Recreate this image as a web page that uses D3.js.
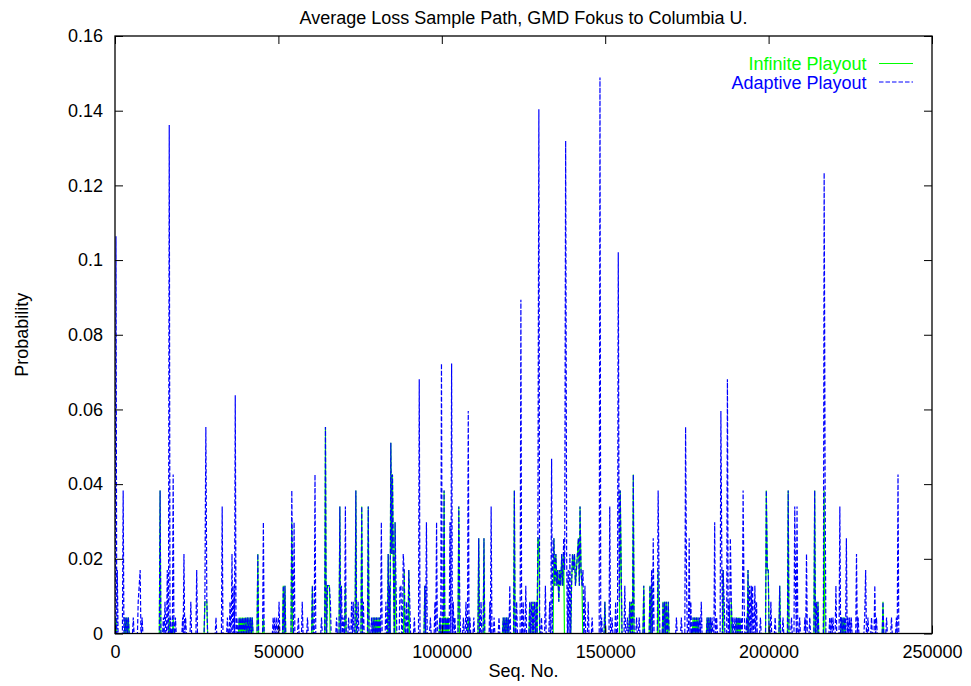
<!DOCTYPE html>
<html>
<head>
<meta charset="utf-8">
<script src="https://cdn.jsdelivr.net/npm/d3@7"></script>
<style>
  body { margin: 0; background: #fff; }
  svg text { font-family: "Liberation Sans", Arial, Helvetica, sans-serif; font-size: 18px; }
</style>
</head>
<body>
<svg id="main"></svg>
<script>

var chart = {
  width: 971,
  height: 686,
  left: 115,
  right: 932,
  top: 36,
  bottom: 633.5
}

var title = "Average Loss Sample Path, GMD Fokus to Columbia U."
var xLabel = "Seq. No."
var yLabel = "Probability"
var seriesNames = ["Infinite Playout", "Adaptive Playout"]

var xTicks = [0, 50000, 100000, 150000, 200000, 250000]
var yTicks = [0, 0.02, 0.04, 0.06, 0.08, 0.1, 0.12, 0.14, 0.16]

// loss is measured per window of packets; windows not listed had no loss (0)
var windowSize = 235
var lastSeq = 240000

// [seq no., loss probability] for the windows that had losses
var infinite = [
  [300,.0043],
  [3100,.0043],[3600,.0043],[4100,.0043],
  [13800,.0383],
  [16600,.0043],[17800,.0043],
  [27500,.0085],[27800,.0085],[28100,.0085],
  [38000,.0043],[38500,.0043],[39000,.0043],[39500,.0043],[40000,.0043],[40500,.0043],[41000,.0043],[41500,.0043],[42000,.0043],
  [43700,.0213],[45400,.0043],
  [51500,.0128],[52000,.0128],
  [54100,.0298],
  [60400,.0128],
  [64400,.0553],[65000,.0128],[65300,.0128],[65600,.0128],
  [68800,.0340],[70500,.0128],
  [73700,.0383],[75500,.0340],[77500,.0340],
  [79000,.0043],[79500,.0043],[80000,.0043],[80500,.0043],[81000,.0043],
  [83600,.0213],[84000,.0128],[84400,.0511],[84700,.0213],[84900,.0426],[85200,.0170],[85700,.0298],
  [88500,.0170],[89900,.0170],
  [94800,.0128],
  [99400,.0043],[100300,.0043],[100700,.0383],[101100,.0043],[101600,.0043],[102000,.0043],
  [105200,.0340],
  [108100,.0043],
  [111300,.0255],[112900,.0255],
  [118800,.0043],[119300,.0043],[119800,.0043],[120300,.0043],
  [122200,.0383],
  [126900,.0085],[127900,.0085],[128900,.0085],
  [129400,.0255],[129700,.0255],
  [134300,.0255],[134600,.0128],[134900,.0213],[135200,.0128],[135500,.0170],[135800,.0085],[136100,.0170],[136400,.0128],[136700,.0213],[137000,.0128],[137300,.0213],
  [139700,.0128],[140000,.0213],[140300,.0170],[140600,.0213],[140900,.0128],[141200,.0170],[141500,.0213],[141800,.0255],[142100,.0128],[142300,.0340],[142600,.0170],[142900,.0128],
  [149900,.0085],
  [154600,.0383],[154900,.0170],
  [157500,.0085],[158000,.0085],[158600,.0426],
  [161800,.0128],[163700,.0128],[164200,.0128],
  [166200,.0170],
  [167700,.0085],[168200,.0085],[168700,.0085],[169300,.0085],
  [176900,.0043],[177400,.0043],[177900,.0043],[178400,.0043],
  [181200,.0043],[181700,.0043],[182200,.0043],
  [186100,.0170],[188600,.0085],
  [190200,.0043],[190700,.0043],[191200,.0043],
  [193700,.0170],
  [199300,.0383],[199600,.0170],[199900,.0170],
  [203400,.0128],
  [206000,.0383],
  [214100,.0383],[215100,.0085],[217000,.0383],
  [222300,.0043],[222800,.0043],[223300,.0043],
  [235000,.0085]
]

var adaptive = [
  [300,.1064],[700,.0170],
  [2500,.0383],[3100,.0043],[3600,.0043],[4100,.0043],
  [5600,.0043],
  [7100,.0085],[7400,.0128],[7700,.0170],[8300,.0043],
  [13800,.0383],
  [14800,.0043],[15300,.0085],[16000,.0170],[16600,.1362],[17000,.0043],[17800,.0426],[18500,.0043],
  [20700,.0043],[21100,.0213],[21600,.0043],
  [23200,.0085],[25000,.0170],
  [27500,.0085],[27800,.0553],[28100,.0085],
  [30900,.0043],
  [32800,.0340],
  [34400,.0043],[35200,.0085],[35800,.0213],[36400,.0128],[36800,.0638],[37300,.0043],
  [38000,.0043],[38500,.0043],[39000,.0043],[39500,.0043],[40000,.0043],[40500,.0043],[41000,.0043],[41500,.0043],[42000,.0043],
  [43700,.0213],[45400,.0298],
  [48400,.0043],[48900,.0043],[49500,.0043],[50200,.0085],[51500,.0128],[52000,.0128],
  [54100,.0383],[54400,.0085],[54800,.0298],
  [56100,.0043],[57300,.0085],[58900,.0043],
  [60400,.0128],[61200,.0426],
  [63200,.0043],[64400,.0553],[65000,.0128],[65300,.0128],[65600,.0128],[65900,.0085],
  [67800,.0043],[68800,.0340],[69300,.0128],[69800,.0043],[70500,.0340],
  [71500,.0043],[72400,.0085],[72900,.0085],[73700,.0383],[74400,.0085],[75500,.0340],[76000,.0085],[77500,.0340],
  [78500,.0043],[79000,.0043],[79500,.0043],[80000,.0043],[80500,.0043],[81000,.0043],[81500,.0298],
  [82900,.0085],[83600,.0213],[84000,.0128],[84400,.0511],[84700,.0213],[84900,.0426],[85200,.0170],[85700,.0298],[86000,.0128],
  [87200,.0128],[87500,.0128],[88200,.0213],[88500,.0170],[89200,.0085],[89900,.0170],[90200,.0085],
  [91600,.0043],[93100,.0681],[94800,.0128],[95300,.0298],[96500,.0043],[97900,.0085],[98400,.0298],
  [99400,.0043],[99900,.0723],[100300,.0043],[100700,.0383],[101100,.0043],[101600,.0043],[102000,.0043],[102500,.0298],[103000,.0723],[103500,.0085],[104000,.0043],
  [105200,.0340],[105500,.0085],[106600,.0043],[107400,.0085],[108100,.0596],[108600,.0043],
  [109800,.0043],[111300,.0255],[112000,.0085],[112900,.0255],[114700,.0085],[115100,.0340],[116000,.0043],
  [117500,.0043],[118800,.0043],[119300,.0043],[119800,.0043],[120300,.0043],[120800,.0128],
  [122200,.0383],[122900,.0085],[124200,.0894],[124900,.0085],[125700,.0128],
  [126900,.0085],[127400,.0085],[127900,.0085],[128400,.0085],[128900,.0085],[129400,.0255],[129700,.1404],[130500,.0043],[131700,.0128],
  [133000,.0085],[133600,.0468],
  [134000,.0170],[134300,.0255],[134600,.0128],[134900,.0213],[135200,.0128],[135500,.0170],[135800,.0085],[136100,.0170],[136400,.0128],[136700,.0213],[137000,.0128],[137300,.0255],[137600,.0170],[137900,.1319],[138200,.0213],
  [138700,.0170],[139200,.0213],
  [139700,.0128],[140000,.0213],[140300,.0170],[140600,.0213],[140900,.0128],[141200,.0170],[141500,.0213],[141800,.0255],[142100,.0128],[142300,.0340],[142600,.0170],[142900,.0128],[143200,.0170],
  [143800,.0128],[144800,.0085],[146000,.0043],
  [148400,.1489],[148900,.0043],[149900,.0085],[151400,.0340],[152100,.0043],
  [153200,.0085],[154000,.1021],[154300,.0085],[154600,.0383],[154900,.0170],[156000,.0128],[156800,.0043],
  [157500,.0085],[158000,.0085],[158600,.0426],[159600,.0043],[160400,.0043],
  [161800,.0128],[163700,.0128],[164200,.0170],[164700,.0255],[166200,.0383],[166500,.0128],
  [167700,.0085],[168200,.0085],[168700,.0085],[169300,.0085],
  [171800,.0043],[173300,.0043],[174600,.0553],[174900,.0128],[175700,.0255],[176200,.0085],
  [176900,.0043],[177400,.0043],[177900,.0043],[178400,.0043],[178900,.0043],[179400,.0085],
  [181200,.0043],[181700,.0043],[182200,.0043],[182700,.0043],
  [183500,.0298],[184100,.0043],
  [185400,.0596],[185700,.0170],[186100,.0170],[186400,.0085],[187400,.0681],[187900,.0085],[188300,.0255],[188600,.0085],[189100,.0043],
  [189700,.0043],[190200,.0043],[190700,.0043],[191200,.0043],[191700,.0043],
  [192200,.0383],[192500,.0085],[193300,.0043],[193700,.0170],[194200,.0128],[194700,.0128],[195100,.0128],[195800,.0128],[196300,.0085],
  [197500,.0043],[199300,.0383],[199600,.0170],[199900,.0170],[200700,.0085],
  [202000,.0043],[203400,.0128],[204400,.0043],
  [206000,.0383],[207000,.0043],[208000,.0340],[208300,.0085],[208700,.0340],[209500,.0043],
  [211100,.0043],[211600,.0213],[212600,.0043],
  [214100,.0383],[214600,.0085],[215100,.0085],[217000,.1234],[217300,.0383],
  [218700,.0043],[219200,.0043],[219700,.0043],[220600,.0128],
  [221800,.0340],[222300,.0043],[222800,.0043],[223300,.0043],[223800,.0255],[224300,.0043],[224800,.0043],[225300,.0043],
  [226900,.0213],[227400,.0043],[229400,.0043],[229700,.0170],[230400,.0043],[231500,.0043],
  [232500,.0128],[233000,.0043],[235000,.0085],[236100,.0043],[237600,.0043],[239100,.0043],[239600,.0426]
]

var colors = ["#00ff00", "#0000ff"]

var svg = d3.select("#main")
  .attr("width", chart.width)
  .attr("height", chart.height)

var x = d3.scaleLinear()
  .domain([0, 250000])
  .range([chart.left, chart.right])

var y = d3.scaleLinear()
  .domain([0, 0.16])
  .range([chart.bottom, chart.top])

// sample path: go back to zero around windows whose neighbours had no loss
function samplePath(points) {
  var out = [[0, 0]]
  points.forEach(function(p, i) {
    var prev = points[i - 1], next = points[i + 1]
    if (!prev || p[0] - prev[0] > 1.5 * windowSize) out.push([p[0] - windowSize, 0])
    out.push(p)
    if (!next || next[0] - p[0] > 1.5 * windowSize) out.push([p[0] + windowSize, 0])
  })
  out.push([lastSeq, 0])
  return out
}

var line = d3.line()
  .x(function(d) { return x(d[0]) })
  .y(function(d) { return y(d[1]) })

svg.append("clipPath").attr("id", "plot")
  .append("rect")
  .attr("x", chart.left).attr("y", chart.top)
  .attr("width", chart.right - chart.left).attr("height", chart.bottom - chart.top + 1)

var lines = svg.append("g").attr("clip-path", "url(#plot)")

lines.append("path")
  .attr("d", line(samplePath(infinite)))
  .attr("fill", "none")
  .attr("stroke", colors[0])
  .attr("stroke-width", 1.2)

lines.append("path")
  .attr("d", line(samplePath(adaptive)))
  .attr("fill", "none")
  .attr("stroke", colors[1])
  .attr("stroke-width", 1.2)
  .attr("stroke-dasharray", "4.5,2")

// axes, gnuplot style: ticks inside, mirrored
function style(g) {
  g.select(".domain").remove()
  g.selectAll(".tick line").attr("stroke", "#000")
  g.selectAll("text").attr("fill", "#000").style("font-size", "18px")
}

svg.append("g")
  .attr("transform", "translate(" + chart.left + ",0)")
  .call(d3.axisLeft(y).tickValues(yTicks).tickSize(-8).tickPadding(12).tickFormat(function(d) { return d }))
  .call(style)

svg.append("g")
  .attr("transform", "translate(" + chart.right + ",0)")
  .call(d3.axisRight(y).tickValues(yTicks).tickSize(-8).tickFormat(""))
  .call(style)

svg.append("g")
  .attr("transform", "translate(0," + chart.bottom + ")")
  .call(d3.axisBottom(x).tickValues(xTicks).tickSize(-8).tickPadding(12).tickFormat(function(d) { return d }))
  .call(style)

svg.append("g")
  .attr("transform", "translate(0," + chart.top + ")")
  .call(d3.axisTop(x).tickValues(xTicks).tickSize(-8).tickFormat(""))
  .call(style)

svg.append("rect")
  .attr("x", chart.left).attr("y", chart.top)
  .attr("width", chart.right - chart.left).attr("height", chart.bottom - chart.top)
  .attr("fill", "none")
  .attr("stroke", "#000")
  .attr("stroke-width", 1.3)

svg.append("text")
  .attr("x", (chart.left + chart.right) / 2).attr("y", 24)
  .attr("text-anchor", "middle")
  .text(title)

svg.append("text")
  .attr("x", (chart.left + chart.right) / 2).attr("y", 677)
  .attr("text-anchor", "middle")
  .text(xLabel)

svg.append("text")
  .attr("transform", "translate(28," + (chart.top + chart.bottom) / 2 + ") rotate(-90)")
  .attr("text-anchor", "middle")
  .text(yLabel)

// legend
var legend = svg.append("g")
seriesNames.forEach(function(name, i) {
  var ly = 63.5 + i * 18.5
  legend.append("text")
    .attr("x", 866.5).attr("y", ly + 6.5)
    .attr("text-anchor", "end")
    .attr("fill", colors[i])
    .text(name)
  legend.append("line")
    .attr("x1", 879).attr("x2", 913)
    .attr("y1", ly).attr("y2", ly)
    .attr("stroke", colors[i])
    .attr("stroke-dasharray", i == 1 ? "4.5,2" : null)
})

</script>
</body>
</html>
